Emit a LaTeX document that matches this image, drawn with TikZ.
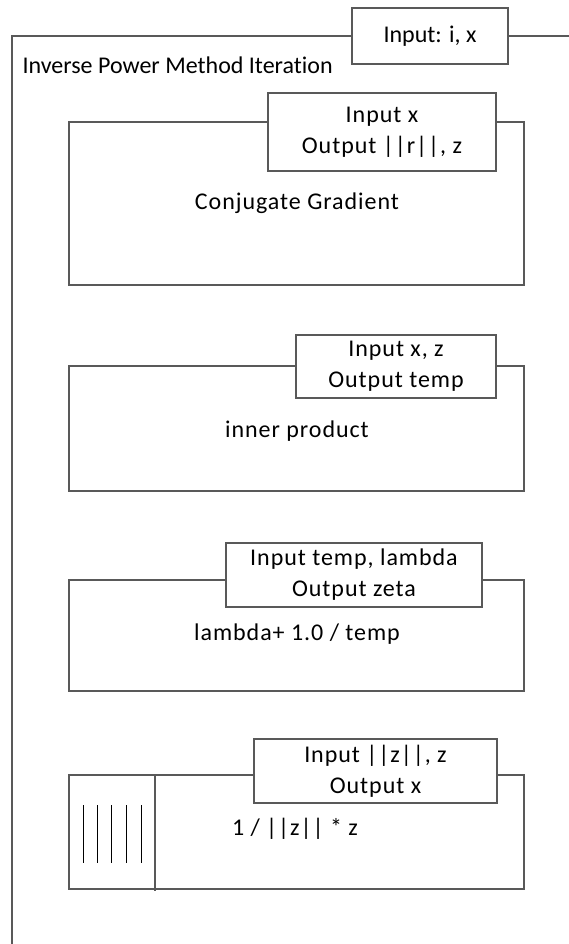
\documentclass[tikz,border=0pt]{standalone}
\usepackage{fontspec}
\setmainfont{Carlito}[Ligatures=NoCommon]
\newfontfamily\trackedfont{Carlito}[Ligatures=NoCommon,LetterSpace=4]
\begin{document}
\begin{tikzpicture}[x=1pt,y=-1pt,
  line width=1.1pt,
  frame/.style={draw=black!65},
  blockbox/.style={frame, rectangle, inner sep=0pt, minimum width=455pt},
  tabbox/.style={frame, fill=white, rectangle, inner sep=0pt, align=center,
    font=\trackedfont\fontsize{24}{31}\selectfont},
  lbl/.style={inner sep=0pt, align=center, font=\trackedfont\fontsize{24}{31}\selectfont},
  every node/.append style={font=\fontsize{24}{31}\selectfont}]
\useasboundingbox (0,0) rectangle (569,944);

% outer iteration frame, open to the right and bottom
\node[tabbox, font=\fontsize{24}{31}\selectfont, minimum width=156pt, minimum height=56pt] (inp) at (430,36) {Input: i, x};
\draw[frame] (inp.west) -- (12,36) -- (12,950);
\draw[frame] (inp.east) -- (575,36);
\node[inner sep=0pt, anchor=west] (title) at (22,65) {Inverse Power Method Iteration};

% conjugate gradient step
\node[blockbox, minimum height=163pt] (cg) at (296.5,203.5) {};
\node[tabbox, minimum width=228pt, minimum height=78pt] (cgio) at (382,132) {Input x\\Output ||r||, z};
\node[lbl] (cgtxt) at (297,203) {Conjugate Gradient};

% inner product step
\node[blockbox, minimum height=125pt] (ip) at (296.5,428.5) {};
\node[tabbox, minimum width=200pt, minimum height=63pt] (ipio) at (396,366.5) {Input x, z\\Output temp};
\node[lbl] (iptxt) at (297,431) {inner product};

% eigenvalue update step
\node[blockbox, minimum height=111pt] (lu) at (296.5,635.5) {};
\node[tabbox, minimum width=256pt, minimum height=64pt] (luio) at (354,575) {Input temp, lambda\\Output zeta};
\node[lbl] (lutxt) at (297,634) {lambda+ 1.0 / temp};

% normalisation step (with loop marker on the left)
\node[blockbox, minimum height=114pt] (nm) at (296.5,832) {};
\node[tabbox, minimum width=243pt, minimum height=64pt] (nmio) at (375.5,771) {Input ||z||, z\\Output x};
\node[lbl] (nmtxt) at (295,829) {1 / ||z|| * z};
\coordinate (divtop) at (155,775);
\coordinate (divbot) at (155,891);
\draw[frame] (divtop) -- (divbot);
\foreach \xx in {83,97.7,111.7,126,141}
  \draw[black, line width=0.6pt] (\xx,805) -- (\xx,863);
\end{tikzpicture}
\end{document}
